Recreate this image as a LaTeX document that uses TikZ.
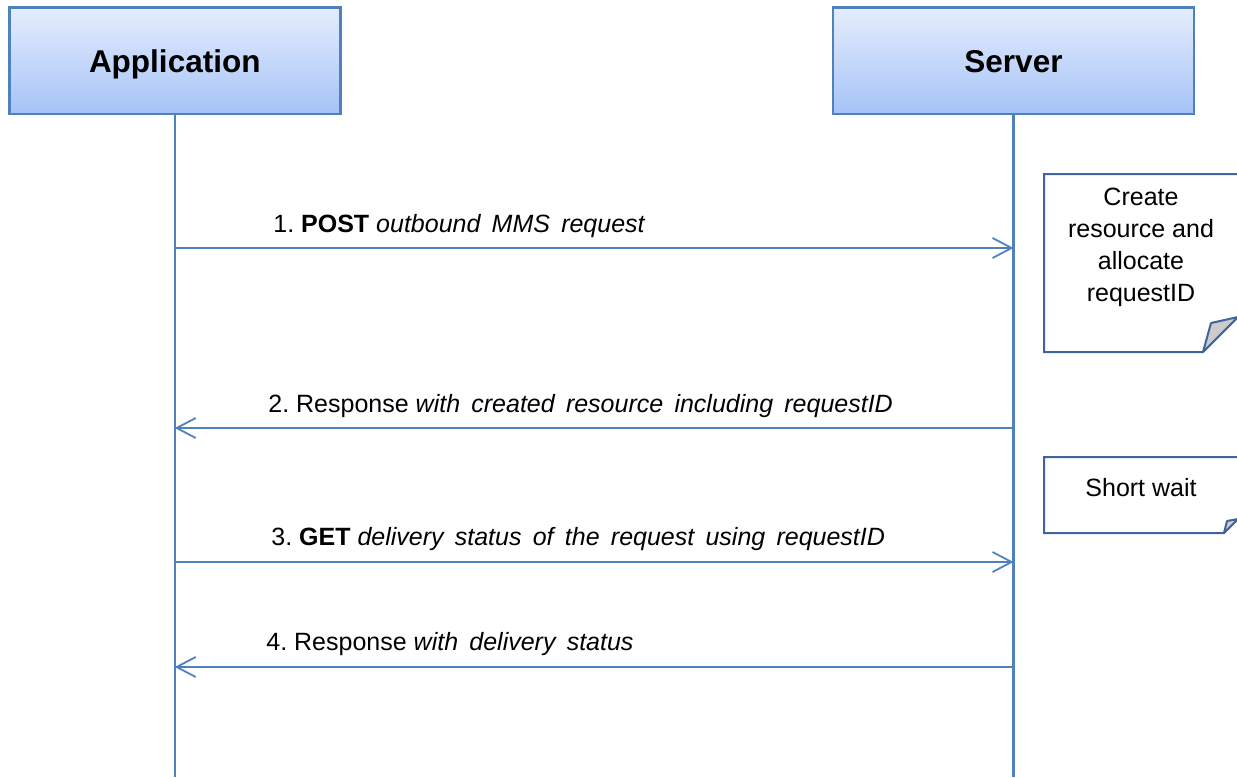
\documentclass[tikz,border=0pt]{standalone}
\usepackage{fontspec}
\setmainfont{Liberation Sans}
\usetikzlibrary{arrows.meta,calc,positioning}
\definecolor{lineblue}{RGB}{79,129,189}
\definecolor{noteblue}{RGB}{65,100,158}
\definecolor{headtop}{RGB}{229,237,253}
\definecolor{headbot}{RGB}{165,195,247}
\definecolor{flapgray}{RGB}{204,204,204}
\newcommand{\detail}[1]{{\itshape\spaceskip=.45em\relax #1}}
\frenchspacing

\begin{document}
\begin{tikzpicture}[x=0.5pt,y=-0.5pt,>={Straight Barb[length=9.5pt,width=10pt]}]
    \tikzstyle{actor}=[draw=lineblue, line width=1.3pt, top color=headtop, bottom color=headbot, minimum width=165.5pt, minimum height=53.25pt, font=\fontsize{15.75}{18}\selectfont\bfseries, text height=11.3pt, text depth=0pt]
    \tikzstyle{lifeline}=[draw=lineblue, line width=1.1pt]
    \tikzstyle{msg}=[draw=lineblue, line width=.9pt, ->]
    \tikzstyle{lbl}=[anchor=base west, inner sep=0pt, font=\fontsize{12.5}{15}\selectfont]
    \tikzstyle{notebox}=[draw=noteblue, line width=1pt, fill=white]
    \tikzstyle{flap}=[draw=noteblue, line width=1pt, fill=flapgray, line join=round]
    \tikzstyle{notetext}=[anchor=north, inner sep=0pt, align=center, font=\fontsize{12.5}{16}\selectfont]

    \useasboundingbox (0,0) rectangle (1237,777);

    \node[actor]                        (app) at (174.75,60.75) {Application};
    \node[actor, minimum width=180.5pt] (srv) at (1013.5,60.75) {Server};
    \coordinate (bottom) at (0,777);
    \draw[lifeline] (app.south) -- (app |- bottom);
    \draw[lifeline] (srv.south) -- (srv |- bottom);

    \draw[notebox] (1044,174) -- (1238,174) -- (1238,317) -- (1203,352) -- (1044,352) -- cycle;
    \draw[flap] (1203,352) -- (1211,323) -- (1238,317) -- cycle;
    \node[notetext] (n1) at (1141,188) {Create\\resource and\\allocate\\requestID};

    \draw[notebox] (1044,457) -- (1238,457) -- (1238,519) -- (1224,533) -- (1044,533) -- cycle;
    \draw[flap] (1224,533) -- (1227,521) -- (1238,519) -- cycle;
    \node[notetext] (n2) at (1141,478) {Short wait};

    \coordinate (m1) at (0,248);
    \coordinate (m2) at (0,428);
    \coordinate (m3) at (0,562);
    \coordinate (m4) at (0,667);
    \draw[msg] (app |- m1) -- (srv |- m1);
    \draw[msg] (srv |- m2) -- (app |- m2);
    \draw[msg] (app |- m3) -- (srv |- m3);
    \draw[msg] (srv |- m4) -- (app |- m4);

    \node[lbl] (l1) at (273,232) {1. \textbf{POST} \detail{outbound MMS request}};
    \node[lbl] (l2) at (268,412) {2. Response \detail{with created resource including requestID}};
    \node[lbl] (l3) at (271,545) {3. \textbf{GET} \detail{delivery status of the request using requestID}};
    \node[lbl] (l4) at (266,650) {4. Response \detail{with delivery status}};
\end{tikzpicture}
\end{document}
